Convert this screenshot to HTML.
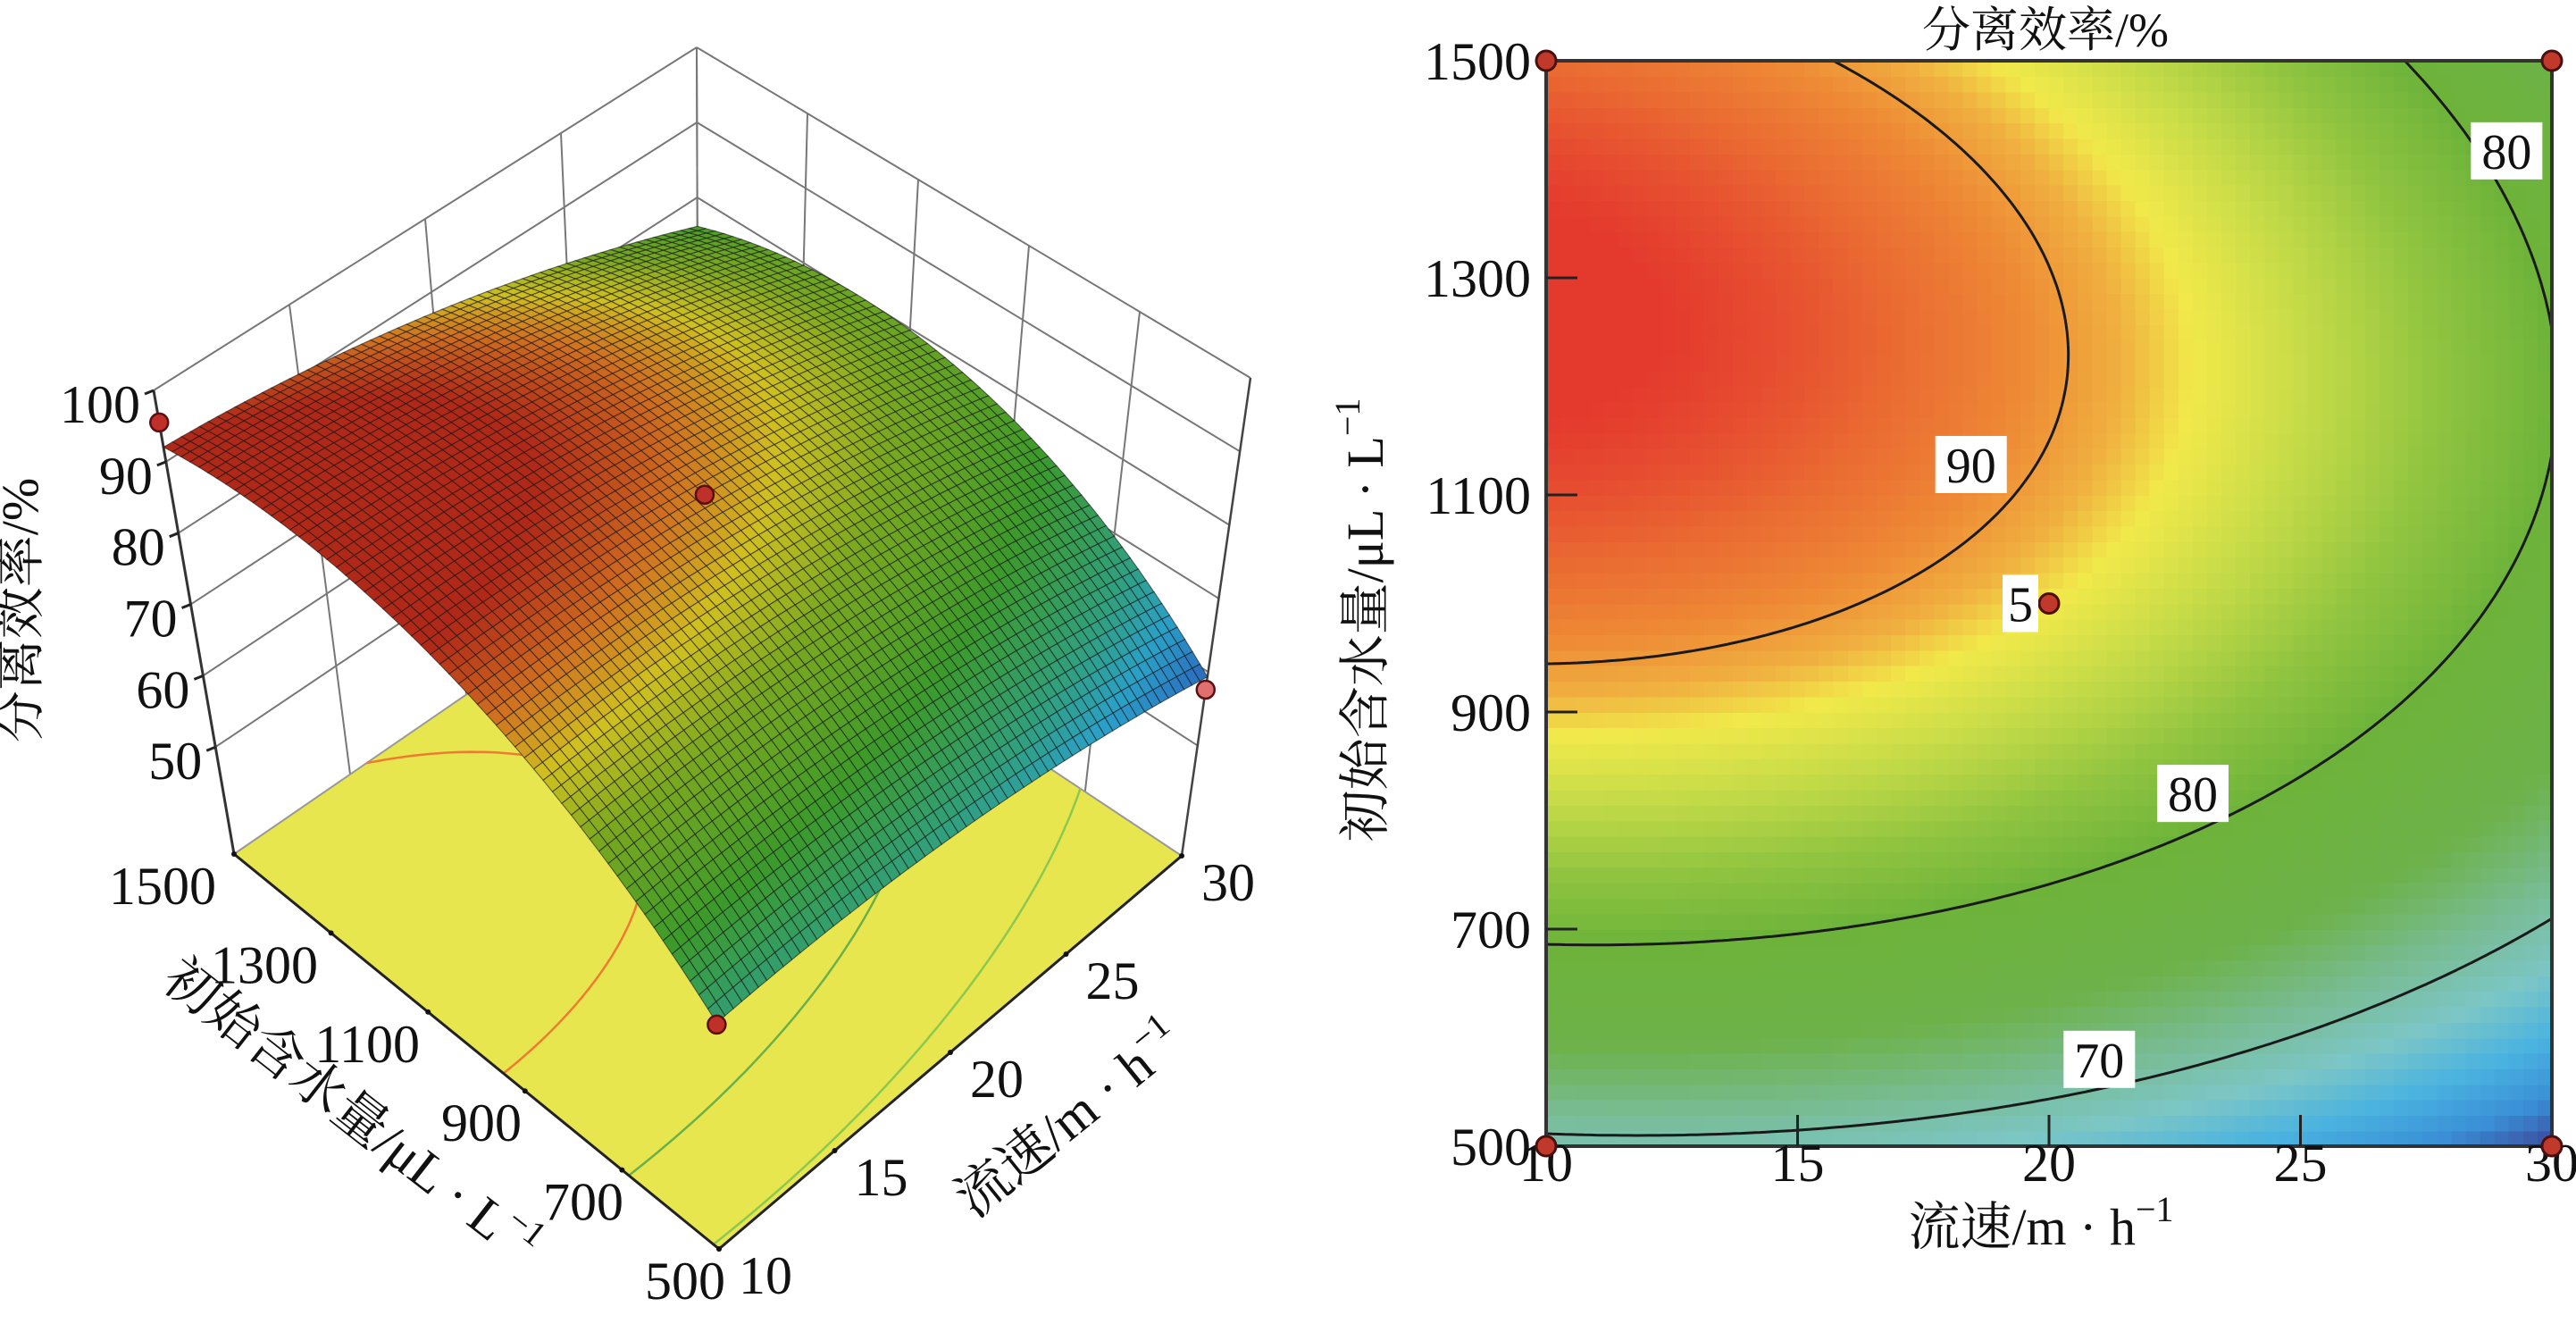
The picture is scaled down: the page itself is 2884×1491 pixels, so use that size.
<!DOCTYPE html>
<html><head><meta charset="utf-8"><style>
html,body{margin:0;padding:0;background:#fff;}
svg{display:block;font-family:"Liberation Serif","Noto Serif CJK SC",serif;}
</style></head><body>
<svg id="chart" width="2884" height="1491" viewBox="0 0 2884 1491" xmlns="http://www.w3.org/2000/svg">
<g id="g3d"></g>
<g id="g2d"></g>
</svg>
<script>
// ---- data ----
const coefNames = ['b0','b1','b2','b12','b11','b22'];
const coefValues = [88, -6.45, 9.9, -1.5, -3.05, -10.75];
const xTicks = [10,15,20,25,30];
const yTicks = [500,700,900,1100,1300,1500];
const zTicks = [50,60,70,80,90,100];
const contourLevels = [70,80,90];
const designV = [10,30,10,30,20];
const designW = [1500,1500,500,500,1000];
const designE = [95.5,76,69,57.6,88];
const labelText = ['90','80','80','70'];
const labelV = [18.45,29.1,22.86,21.0];
const labelW = [1128,1417,825,580];
const centerLabel = '5';

const NS='http://www.w3.org/2000/svg';
function mk(tag,attrs,parent){const e=document.createElementNS(NS,tag);for(const k in attrs)e.setAttribute(k,attrs[k]);parent.appendChild(e);return e;}
function E(v,w){const x1=(v-20)/10,x2=(w-1000)/500;const [b0,b1,b2,b12,b11,b22]=coefValues;return b0+b1*x1+b2*x2+b12*x1*x2+b11*x1*x1+b22*x2*x2;}
function hex(c){return [parseInt(c.slice(1,3),16),parseInt(c.slice(3,5),16),parseInt(c.slice(5,7),16)];}
function cmap(stops,val){if(val<=stops[0][0])return stops[0][1];for(let i=1;i<stops.length;i++){if(val<=stops[i][0]){const a=hex(stops[i-1][1]),b=hex(stops[i][1]);const f=(val-stops[i-1][0])/(stops[i][0]-stops[i-1][0]);return 'rgb('+a.map((x,k)=>Math.round(x+(b[k]-x)*f)).join(',')+')';}}return stops[stops.length-1][1];}
const stops2d=[[56,'#2d3580'],[59.5,'#3b4a9c'],[62,'#3a8fd6'],[65,'#4ab3e0'],[68,'#7cc6c6'],[71.5,'#78bb90'],[75,'#6db24a'],[80,'#6db33a'],[83,'#90c440'],[86,'#c8dc48'],[88,'#f1e94a'],[89.2,'#f0b040'],[90.6,'#ee8a35'],[92.2,'#ea6a32'],[94,'#e43a2e']];
const stops3d=[[57,'#2a3a9a'],[60,'#2a70c0'],[64,'#2aa0c8'],[68,'#30a080'],[75,'#3c9a2a'],[82,'#7aa820'],[86,'#d0c020'],[89,'#d07020'],[92,'#b02818']];

function contourSegs(level,N){
  const segs=[];const vs=i=>10+20*i/N, ws=j=>500+1000*j/N;
  for(let i=0;i<N;i++)for(let j=0;j<N;j++){
    const c=[[vs(i),ws(j)],[vs(i+1),ws(j)],[vs(i+1),ws(j+1)],[vs(i),ws(j+1)]];
    const f=c.map(p=>E(p[0],p[1])-level);const pts=[];
    for(let k=0;k<4;k++){const a=k,b=(k+1)%4;if((f[a]<0)!==(f[b]<0)){const t=f[a]/(f[a]-f[b]);pts.push([c[a][0]+(c[b][0]-c[a][0])*t,c[a][1]+(c[b][1]-c[a][1])*t]);}}
    if(pts.length>=2)segs.push([pts[0],pts[1]]);if(pts.length===4)segs.push([pts[2],pts[3]]);
  }return segs;}

// ================= 2D contour =================
const g2=document.getElementById('g2d');
const X0=1731,X1=2857,Y0=68,Y1=1283;
const sx=v=>X0+(v-10)/20*(X1-X0), sy=w=>Y1-(w-500)/1000*(Y1-Y0);
const hm=mk('g',{'shape-rendering':'crispEdges'},g2);


const NC=70;
for(let i=0;i<NC;i++)for(let j=0;j<NC;j++){
  const v0=10+20*i/NC,v1=10+20*(i+1)/NC,w0=500+1000*j/NC,w1=500+1000*(j+1)/NC;
  const r=mk('rect',{x:sx(v0),y:sy(w1),width:sx(v1)-sx(v0)+0.8,height:sy(w0)-sy(w1)+0.8,fill:cmap(stops2d,E((v0+v1)/2,(w0+w1)/2))},hm);
  
  
}
contourLevels.forEach(L=>{
  const d=contourSegs(L,160).map(s=>'M'+sx(s[0][0]).toFixed(1)+' '+sy(s[0][1]).toFixed(1)+'L'+sx(s[1][0]).toFixed(1)+' '+sy(s[1][1]).toFixed(1)).join('');
  const p=mk('path',{d:d,stroke:'#1a1a1a','stroke-width':3,fill:'none'},g2);
  
  
});
const fr=mk('rect',{x:X0,y:Y0,width:X1-X0,height:Y1-Y0,fill:'none',stroke:'#333','stroke-width':4},g2);


xTicks.forEach(v=>{
  if(v>10&&v<30){const t=mk('line',{x1:sx(v),x2:sx(v),y1:Y1,y2:Y1-35,stroke:'#222','stroke-width':3},g2);}
  const l=mk('text',{x:sx(v),y:1322,'text-anchor':'middle','font-size':60,fill:'#111'},g2);l.textContent=v;
  
  
});
yTicks.forEach(w=>{
  if(w>500&&w<1500){const t=mk('line',{x1:X0,x2:X0+35,y1:sy(w),y2:sy(w),stroke:'#222','stroke-width':3},g2);}
  const l=mk('text',{x:1714,y:sy(w)+21,'text-anchor':'end','font-size':60,fill:'#111'},g2);l.textContent=w;
  
  
});
labelText.forEach((t,k)=>{
  const cx=sx(labelV[k]),cy=sy(labelW[k]);
  const b=mk('rect',{x:cx-40,y:cy-32,width:80,height:64,fill:'#fff'},g2);
  
  
  const l=mk('text',{x:cx,y:cy+20,'text-anchor':'middle','font-size':56,fill:'#111'},g2);l.textContent=t;
  
  
});
for(let k=0;k<designV.length;k++){
  const c=mk('circle',{cx:sx(designV[k]),cy:sy(designW[k]),r:11,fill:'#c0392b',stroke:'#4a1010','stroke-width':3},g2);
  
  
}
{const cx=sx(designV[4]),cy=sy(designW[4]);
 const b=mk('rect',{x:cx-52,y:cy-32,width:40,height:64,fill:'#fff'},g2);
 
 
 const l=mk('text',{x:cx-32,y:cy+20,'text-anchor':'middle','font-size':56,fill:'#111'},g2);l.textContent=centerLabel;
 
 }
{const t=mk('text',{x:2290,y:52,'text-anchor':'middle','font-size':54,fill:'#111'},g2);t.textContent='分离效率/%';
 
 const xt=mk('text',{x:2285,y:1393,'text-anchor':'middle','font-size':58,fill:'#111'},g2);
 xt.innerHTML='流速/m · h<tspan font-size="40" dy="-26">−1</tspan>';
 
 const yt=mk('text',{x:0,y:0,'text-anchor':'middle','font-size':58,fill:'#111',transform:'translate(1548,694) rotate(-90)'},g2);
 yt.innerHTML='初始含水量/μL · L<tspan font-size="40" dy="-26">−1</tspan>';
 }

// ================= 3D surface =================
const g3=document.getElementById('g3d');
const ZF=35,ZT=100;
const C={ '000':[805,1398],'100':[1323,958],'010':[262,956],'110':[782,599],
          '001':[800,918],'101':[1400,423],'011':[172,437],'111':[780,53]};
function P(v,w,z){const u=(v-10)/20,t=(w-500)/1000,s=(z-ZF)/(ZT-ZF);let x=0,y=0;
  for(const a of[0,1])for(const b of[0,1])for(const c of[0,1]){const wt=(a?u:1-u)*(b?t:1-t)*(c?s:1-s);const p=C[''+a+b+c];x+=wt*p[0];y+=wt*p[1];}return [x,y];}
const pt=p=>p[0].toFixed(1)+','+p[1].toFixed(1);
function line3(a,b,attrs,name){const A=P(...a),B=P(...b);const l=mk('line',Object.assign({x1:A[0],y1:A[1],x2:B[0],y2:B[1]},attrs),g3);return l;}
const grid={stroke:'#777','stroke-width':2};
xTicks.forEach(v=>line3([v,1500,ZF],[v,1500,ZT],grid,'back-wall-gridline'));
yTicks.forEach(w=>line3([30,w,ZF],[30,w,ZT],grid,'side-wall-gridline'));
zTicks.forEach(z=>{line3([10,1500,z],[30,1500,z],grid,'back-wall-gridline');line3([30,1500,z],[30,500,z],grid,'side-wall-gridline');});
{const fl=mk('polygon',{points:[P(10,500,ZF),P(30,500,ZF),P(30,1500,ZF),P(10,1500,ZF)].map(pt).join(' '),fill:'#e8e64e',stroke:'#999','stroke-width':2},g3);
 }
const floorCol={70:'#8cc850',80:'#6ab04a',90:'#f07a30'};
contourLevels.forEach(L=>{
  const d=contourSegs(L,80).map(s=>'M'+pt(P(s[0][0],s[0][1],ZF))+'L'+pt(P(s[1][0],s[1][1],ZF))).join('');
  const p=mk('path',{d:d,stroke:floorCol[L],'stroke-width':2.5,fill:'none'},g3);
  
  
});
line3([10,1500,ZF],[10,500,ZF],{stroke:'#222','stroke-width':3},'w-axis-line');
line3([10,500,ZF],[30,500,ZF],{stroke:'#222','stroke-width':3},'v-axis-line');
line3([10,1500,ZF],[10,1500,ZT],{stroke:'#333','stroke-width':3},'z-axis-line');
line3([30,500,ZF],[30,500,ZT],{stroke:'#444','stroke-width':2.5},'right-edge-line');
const surf=mk('g',{},g3);


const NS3=60, quads=[];
for(let i=0;i<NS3;i++)for(let j=0;j<NS3;j++)quads.push([i,j]);
quads.sort((a,b)=>(b[0]+b[1])-(a[0]+a[1]));
quads.forEach(([i,j])=>{
  const v0=10+20*i/NS3,v1=10+20*(i+1)/NS3,w0=500+1000*j/NS3,w1=500+1000*(j+1)/NS3;
  const pts=[[v0,w0],[v1,w0],[v1,w1],[v0,w1]].map(q=>P(q[0],q[1],E(q[0],q[1])));
  const q=mk('polygon',{points:pts.map(pt).join(' '),fill:cmap(stops3d,E((v0+v1)/2,(w0+w1)/2)),stroke:'rgba(20,20,20,0.6)','stroke-width':1.1},surf);
  
  
});
[0,2,3,4].forEach(k=>{const p=P(designV[k],designW[k],designE[k]);
  const c=mk('circle',{cx:p[0],cy:p[1],r:10,fill:k===3?'#e07070':'#c0302a',stroke:'#5a1010','stroke-width':2.5},g3);
  
  });
yTicks.forEach(w=>{const t=(w-500)/1000;const p=P(10,w,ZF);
  const d=mk('circle',{cx:p[0],cy:p[1],r:3,fill:'#111'},g3);
  const l=mk('text',{x:p[0]-20+27*(1-t),y:p[1]+56,'text-anchor':'end','font-size':60,fill:'#111'},g3);l.textContent=w;
  });
xTicks.forEach(v=>{const p=P(v,500,ZF);
  const d=mk('circle',{cx:p[0],cy:p[1],r:3,fill:'#111'},g3);
  const l=mk('text',{x:p[0]+22,y:p[1]+50,'text-anchor':'start','font-size':60,fill:'#111'},g3);l.textContent=v;
  });
zTicks.forEach(z=>{const p=P(10,1500,z);
  const t=mk('line',{x1:p[0]-10,y1:p[1]+4,x2:p[0],y2:p[1],stroke:'#222','stroke-width':3},g3);
  const l=mk('text',{x:p[0]-15,y:p[1]+36,'text-anchor':'end','font-size':60,fill:'#111'},g3);l.textContent=z;
  });
{const zt=mk('text',{x:0,y:0,'text-anchor':'middle','font-size':58,fill:'#111',transform:'translate(42,683) rotate(-90)'},g3);zt.textContent='分离效率/%';
 
 const wt=mk('text',{x:0,y:20,'text-anchor':'middle','font-size':60,fill:'#111',transform:'translate(393,1244) rotate(38)'},g3);
 wt.innerHTML='初始含水量/μL · L<tspan font-size="40" dy="-26">−1</tspan>';
 
 const vt=mk('text',{x:0,y:20,'text-anchor':'middle','font-size':60,fill:'#111',transform:'translate(1197,1253) rotate(-39)'},g3);
 vt.innerHTML='流速/m · h<tspan font-size="40" dy="-26">−1</tspan>';
 }
</script>
</body></html>
